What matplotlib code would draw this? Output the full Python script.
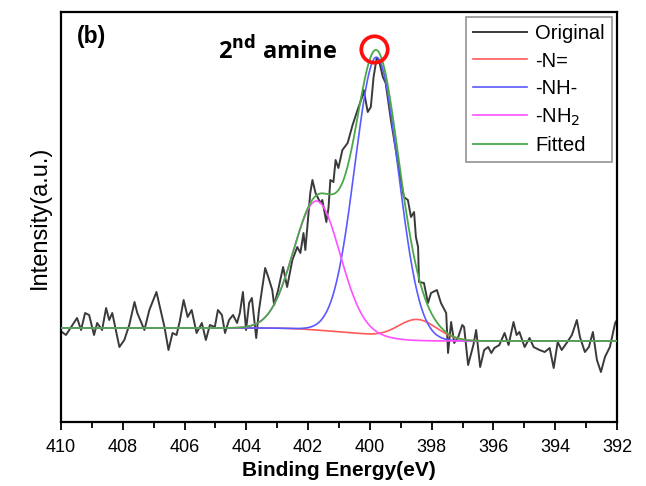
import numpy as np
import matplotlib
matplotlib.use("Agg")
import matplotlib.pyplot as plt
from matplotlib.ticker import MultipleLocator

# ---- measured spectrum (binding energy, intensity a.u.) ----
be_orig = [409.97, 409.84, 409.67, 409.48, 409.35, 409.22, 409.09, 408.93, 408.83, 408.67,
           408.54, 408.44, 408.34, 408.24, 408.11, 407.95, 407.79, 407.62, 407.53, 407.30,
           407.14, 406.91, 406.74, 406.65, 406.52, 406.39, 406.26, 406.16, 406.03, 405.90,
           405.77, 405.61, 405.44, 405.31, 405.18, 405.02, 404.92, 404.79, 404.69, 404.56,
           404.43, 404.30, 404.21, 404.11, 404.01, 403.91, 403.82, 403.68, 403.59, 403.39,
           403.29, 403.16, 403.10, 402.97, 402.81, 402.68, 402.51, 402.35, 402.25, 402.15,
           402.09, 401.93, 401.86, 401.76, 401.60, 401.54, 401.41, 401.34, 401.28, 401.18,
           401.11, 401.02, 400.89, 400.72, 400.56, 400.40, 400.23, 400.20, 400.07, 399.97,
           399.88, 399.78, 399.71, 399.58, 399.49, 399.32, 399.16, 399.00, 398.90, 398.77,
           398.67, 398.57, 398.51, 398.44, 398.41, 398.25, 398.12, 398.02, 397.83, 397.70,
           397.53, 397.47, 397.37, 397.27, 397.14, 397.01, 396.95, 396.82, 396.65, 396.56,
           396.43, 396.30, 396.17, 396.07, 395.97, 395.81, 395.64, 395.51, 395.35, 395.25,
           395.16, 394.99, 394.83, 394.70, 394.51, 394.34, 394.18, 394.05, 393.92, 393.79,
           393.63, 393.46, 393.30, 393.20, 393.04, 392.91, 392.78, 392.65, 392.52, 392.39,
           392.23, 392.06, 392.00]
int_orig = [90, 87, 95, 104, 92, 109, 107, 87, 99, 92,
            114, 102, 109, 94, 75, 82, 97, 120, 109, 92,
            112, 130, 107, 95, 72, 89, 87, 100, 122, 105,
            112, 89, 99, 82, 97, 95, 112, 107, 89, 102,
            107, 99, 109, 130, 92, 119, 124, 84, 112, 154,
            145, 132, 117, 132, 155, 135, 162, 175, 169, 189,
            172, 229, 242, 229, 219, 222, 200, 214, 242, 240,
            262, 254, 272, 279, 297, 312, 327, 332, 310, 315,
            345, 364, 362, 345, 339, 302, 272, 242, 225, 222,
            205, 210, 185, 175, 140, 139, 119, 129, 132, 119,
            109, 69, 100, 79, 85, 97, 95, 57, 77, 92,
            55, 72, 75, 69, 74, 77, 89, 77, 100, 87,
            90, 75, 84, 75, 72, 70, 74, 54, 80, 72,
            79, 87, 102, 85, 70, 75, 90, 62, 50, 65,
            75, 99, 102]

# ---- fitted peak parameters ----
peak_names = ["-N=", "-NH-", "-NH$_2$"]
peak_centers = [398.47, 399.78, 401.72]     # eV
peak_heights = [21, 279, 129]               # a.u.
peak_sigmas = [0.64, 0.70, 0.75]            # eV
bg_low_be = 81      # background level at low binding energy side
bg_high_be = 94     # background level at high binding energy side

peak_colors = ["#ff5a5a", "#5a5aff", "#ff50ff"]
orig_color = "#3a3a3a"
fit_color = "#4aa84a"

# ---- build fit curves ----
E = np.linspace(392, 410, 721)
peaks = [h * np.exp(-(E - c) ** 2 / (2 * s ** 2))
         for c, h, s in zip(peak_centers, peak_heights, peak_sigmas)]
total = np.sum(peaks, axis=0)
cum = np.cumsum(total)
bg = bg_low_be + (bg_high_be - bg_low_be) * cum / cum[-1]

W, H = 646, 486
fig = plt.figure(figsize=(W / 100, H / 100), dpi=100)
ax = fig.add_axes([61 / W, 1 - 422 / H, 556 / W, 410 / H])

l0, = ax.plot(be_orig, int_orig, color=orig_color, lw=1.4, label="Original", zorder=2)
lines = [l0]
for p, name, col in zip(peaks, peak_names, peak_colors):
    l, = ax.plot(E, bg + p, color=col, lw=1.2, label=name, zorder=3)
    lines.append(l)
lf, = ax.plot(E, bg + total, color=fit_color, lw=1.3, label="Fitted", zorder=4)
lines.append(lf)

ax.set_xlim(410, 392)
ax.set_ylim(0, 410)
ax.xaxis.set_major_locator(MultipleLocator(2))
ax.xaxis.set_minor_locator(MultipleLocator(1))
ax.tick_params(axis="x", which="major", direction="out", length=6, width=1.3,
               labelsize=13, top=False, pad=6)
ax.tick_params(axis="x", which="minor", direction="out", length=4, width=1.3, top=False)
ax.tick_params(axis="y", left=False, labelleft=False, right=False)
for s in ax.spines.values():
    s.set_linewidth(1.6)
for lab in ax.get_xticklabels():
    lab.set_fontfamily("Liberation Sans")

fig.text(339 / W, 1 - 470 / H, "Binding Energy(eV)", fontsize=15, fontweight="bold",
         fontfamily="Liberation Sans", ha="center", va="center")
fig.text(40 / W, 1 - 217 / H, "Intensity(a.u.)", fontsize=17, rotation=90,
         fontfamily="Liberation Sans", ha="center", va="center")

fig.text(77 / W, 1 - 37 / H, "(b)", fontsize=16.5, fontweight="bold",
         fontfamily="Liberation Sans", va="center", ha="left")
fig.text(218 / W, 1 - 51 / H, r"2$^{\mathbf{nd}}$ amine", fontsize=17,
         fontweight="bold", fontfamily="Open Sans", va="center", ha="left")
ax.plot([399.87], [373], marker="o", ms=19, mfc="none", mec="#ff1010", mew=2.7,
        zorder=6, linestyle="none")

leg = ax.legend(handles=lines, loc="upper right", frameon=True,
                fancybox=False, edgecolor="#777777", handlelength=2.7,
                handletextpad=0.4, labelspacing=0.42, borderpad=0.35,
                borderaxespad=0.25,
                prop={"family": "Liberation Sans", "size": 14.5})
leg.get_frame().set_linewidth(1.2)

fig.savefig("out.png", dpi=100)
